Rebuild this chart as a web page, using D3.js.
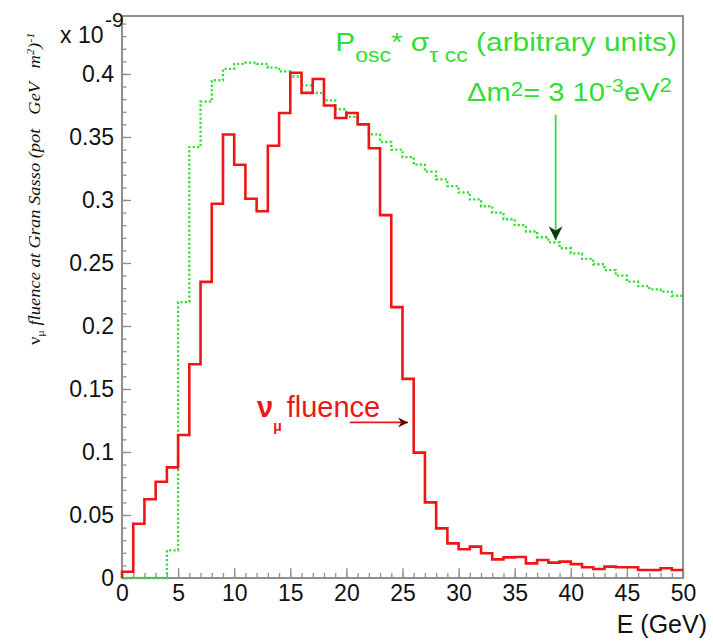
<!DOCTYPE html>
<html>
<head>
<meta charset="utf-8">
<script src="https://cdn.jsdelivr.net/npm/d3@7"></script>
<style>
  body { margin: 0; background: #fff; }
  text { font-family: "Liberation Sans", Arial, sans-serif; }
</style>
</head>
<body>
<div id="chart"></div>
<script>
// nu_mu fluence, 1 GeV bins from 0 to 50 (units of 1e-9)
let binEdgesStart = d3.range(0, 50);
let fluence = [
  0.005, 0.043, 0.0625, 0.0764, 0.0878, 0.1135, 0.1696, 0.235, 0.297, 0.352,
  0.328, 0.301, 0.291, 0.343, 0.369, 0.401, 0.385, 0.396, 0.375, 0.365,
  0.369, 0.36, 0.341, 0.288, 0.215, 0.158, 0.0995, 0.06, 0.0394, 0.0275,
  0.0228, 0.0249, 0.0196, 0.0148, 0.0164, 0.0167, 0.0116, 0.0143, 0.0122, 0.013,
  0.011, 0.0085, 0.0071, 0.009, 0.0085, 0.0085, 0.0063, 0.0063, 0.0077, 0.0063
];
// P_osc * sigma_tau cc (arbitrary units)
let oscXsec = [
  0, 0, 0, 0, 0.022, 0.219, 0.342, 0.378, 0.395, 0.404,
  0.408, 0.409, 0.408, 0.405, 0.402, 0.398, 0.391, 0.385, 0.379, 0.372,
  0.366, 0.36, 0.352, 0.346, 0.34, 0.334, 0.328, 0.3225, 0.3164, 0.311,
  0.306, 0.3005, 0.295, 0.29, 0.2847, 0.28, 0.275, 0.2704, 0.2664, 0.2617,
  0.2577, 0.2532, 0.249, 0.2444, 0.24, 0.2352, 0.2317, 0.229, 0.2272, 0.224
];
let xMajorTicks = [0, 5, 10, 15, 20, 25, 30, 35, 40, 45, 50];
let xMinorTicks = d3.range(0, 51, 1);
let yMajorTicks = [0, 0.05, 0.1, 0.15, 0.2, 0.25, 0.3, 0.35, 0.4];
let yMinorTicks = d3.range(0, 45).map((d) => d / 100);
let yTickLabels = ["0", "0.05", "0.1", "0.15", "0.2", "0.25", "0.3", "0.35", "0.4"];
// annotation arrows in data units
let greenArrow = { x: 38.65, y0: 0.3675, y1: 0.268 };
let redArrow = { x0: 20.3, x1: 25.5, y: 0.1235 };

let W = 713, H = 641;
let margin = { top: 16, right: 30, bottom: 63, left: 122 };
let width = W - margin.left - margin.right;
let height = H - margin.top - margin.bottom;

let red = "#ee1616";
let green = "#33dd33";
let axisGrey = "#8f8f8f";

let svg = d3
  .select("#chart")
  .append("svg")
  .attr("width", W)
  .attr("height", H);

let g = svg
  .append("g")
  .attr("transform", "translate(" + margin.left + "," + margin.top + ")");

let x = d3.scaleLinear().domain([0, 50]).range([0, width]);
let y = d3.scaleLinear().domain([0, 0.446]).range([height, 0]);

// minor ticks
g.append("g")
  .attr("class", "yminor")
  .call(d3.axisLeft(y).tickValues(yMinorTicks).tickSize(-4.5).tickFormat(""));
g.append("g")
  .attr("class", "xminor")
  .attr("transform", "translate(0," + height + ")")
  .call(d3.axisBottom(x).tickValues(xMinorTicks).tickSize(-5).tickFormat(""));

// major ticks + labels
g.append("g")
  .attr("class", "ymajor")
  .call(
    d3.axisLeft(y)
      .tickValues(yMajorTicks)
      .tickSize(-9)
      .tickPadding(8)
      .tickFormat((d, i) => yTickLabels[i])
  );
g.append("g")
  .attr("class", "xmajor")
  .attr("transform", "translate(0," + height + ")")
  .call(d3.axisBottom(x).tickValues(xMajorTicks).tickSize(-10).tickPadding(8));

g.selectAll(".domain").remove();
g.selectAll(".tick line").attr("stroke", axisGrey).attr("stroke-width", 1.3);
g.selectAll(".tick text")
  .attr("fill", "#111")
  .style("font-size", "23px")
  .style("font-family", '"Liberation Sans", Arial, sans-serif');
g.selectAll(".xmajor .tick text").attr("y", 7).attr("dy", "0.71em");

// frame
g.append("rect")
  .attr("x", 0)
  .attr("y", 0)
  .attr("width", width)
  .attr("height", height)
  .attr("fill", "none")
  .attr("stroke", axisGrey)
  .attr("stroke-width", 2);

function stepPoints(vals) {
  let pts = [[0, 0]];
  vals.forEach((v, i) => pts.push([binEdgesStart[i], v]));
  pts.push([50, vals[vals.length - 1]]);
  return pts;
}

let step = d3
  .line()
  .x((d) => x(d[0]))
  .y((d) => y(d[1]))
  .curve(d3.curveStepAfter);

// green dotted histogram
g.append("path")
  .attr("d", step(stepPoints(oscXsec)))
  .attr("fill", "none")
  .attr("stroke", green)
  .attr("stroke-width", 2.3)
  .attr("stroke-dasharray", "2.2,2.2");

// red solid histogram
g.append("path")
  .attr("d", step(stepPoints(fluence)))
  .attr("fill", "none")
  .attr("stroke", red)
  .attr("stroke-width", 2.6);

// arrows
let defs = svg.append("defs");
function addHead(id, fill, w, h) {
  defs.append("marker")
    .attr("id", id)
    .attr("viewBox", "0 0 10 10")
    .attr("refX", 10)
    .attr("refY", 5)
    .attr("markerWidth", w)
    .attr("markerHeight", h)
    .attr("markerUnits", "userSpaceOnUse")
    .attr("orient", "auto")
    .append("path")
    .attr("d", "M0,0 L10,5 L0,10 L3,5 z")
    .attr("fill", fill);
}
addHead("headGreen", "#0a3a0a", 22, 14);
addHead("headRed", "#5a0808", 14, 10);

g.append("line")
  .attr("x1", x(greenArrow.x))
  .attr("x2", x(greenArrow.x))
  .attr("y1", y(greenArrow.y0))
  .attr("y2", y(greenArrow.y1))
  .attr("stroke", green)
  .attr("stroke-width", 1.8)
  .attr("marker-end", "url(#headGreen)");

g.append("line")
  .attr("x1", x(redArrow.x0))
  .attr("x2", x(redArrow.x1))
  .attr("y1", y(redArrow.y))
  .attr("y2", y(redArrow.y))
  .attr("stroke", red)
  .attr("stroke-width", 1.8)
  .attr("marker-end", "url(#headRed)");

// green legend text
let gt1 = svg
  .append("text")
  .attr("transform", "translate(677,51) scale(1.15,1)")
  .attr("text-anchor", "end")
  .attr("fill", green)
  .style("font-size", "26px");
gt1.append("tspan").text("P");
gt1.append("tspan").attr("dy", 11).style("font-size", "20px").text("osc");
gt1.append("tspan").attr("dy", -11).text("* σ");
gt1.append("tspan").attr("dy", 11).style("font-size", "20px").text("τ cc");
gt1.append("tspan").attr("dy", -11).text(" (arbitrary units)");

let gt2 = svg
  .append("text")
  .attr("transform", "translate(672,101) scale(1.12,1)")
  .attr("text-anchor", "end")
  .attr("fill", green)
  .style("font-size", "26px");
gt2.append("tspan").text("Δm");
gt2.append("tspan").attr("dy", -5).style("font-size", "20px").text("2");
gt2.append("tspan").attr("dy", 5).text("= 3 10");
gt2.append("tspan").attr("dy", -9).style("font-size", "19px").text("-3");
gt2.append("tspan").attr("dy", 9).text("eV");
gt2.append("tspan").attr("dy", -9).style("font-size", "20px").text("2");

// red label
let rt = svg
  .append("text")
  .attr("x", 257)
  .attr("y", 417)
  .attr("fill", red)
  .style("font-size", "29px");
rt.append("tspan").style("font-weight", "bold").text("ν");
rt.append("tspan").attr("dy", 14).style("font-size", "14px").style("font-weight", "bold").text("μ");
rt.append("tspan").attr("dy", -14).attr("dx", 5).text("fluence");

// scale factor label
svg.append("text")
  .attr("x", 60)
  .attr("y", 43)
  .attr("fill", "#111")
  .style("font-size", "23px")
  .text("x 10");
svg.append("text")
  .attr("x", 105)
  .attr("y", 27)
  .attr("fill", "#111")
  .style("font-size", "21px")
  .text("-9");

// y axis title (rotated, italic serif)
let yt = svg
  .append("text")
  .attr("transform", "translate(40,345) rotate(-90) scale(1.12,1)")
  .attr("fill", "#111")
  .style("font-family", '"Liberation Serif", "Times New Roman", serif')
  .style("font-style", "italic")
  .style("font-size", "16.5px")
  .style("white-space", "pre");
yt.append("tspan").style("font-style", "normal").text("ν");
yt.append("tspan").attr("dy", 4).style("font-size", "11px").style("font-style", "normal").text("μ");
yt.append("tspan").attr("dy", -4).text(" fluence at Gran Sasso (pot   GeV   m");
yt.append("tspan").attr("dy", -6).style("font-size", "11px").text("2");
yt.append("tspan").attr("dy", 6).text(")");
yt.append("tspan").attr("dy", -6).style("font-size", "11px").text("-1");

// x axis title
svg.append("text")
  .attr("x", 707)
  .attr("y", 633)
  .attr("text-anchor", "end")
  .attr("fill", "#111")
  .style("font-size", "25px")
  .text("E (GeV)");
</script>
</body>
</html>
